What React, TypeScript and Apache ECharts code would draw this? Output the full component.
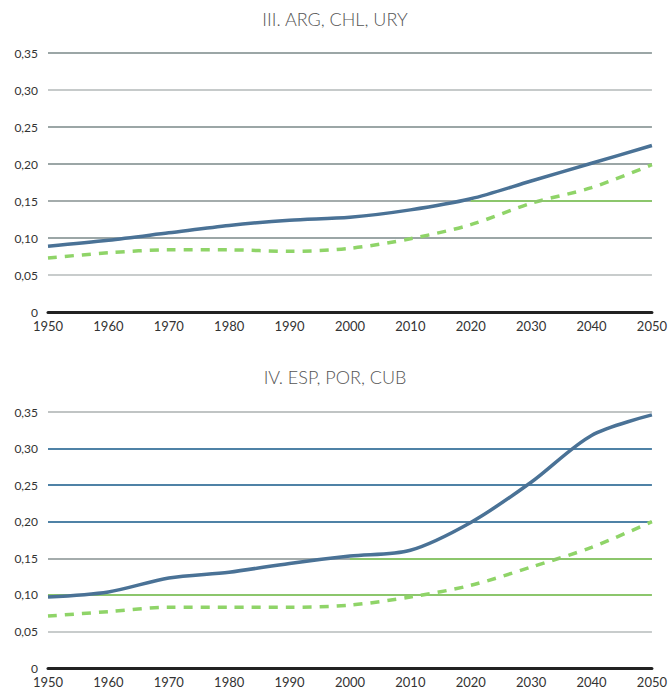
import React, { useEffect, useRef } from "react";
import * as echarts from "echarts";

const years = ["1950", "1960", "1970", "1980", "1990", "2000", "2010", "2020", "2030", "2040", "2050"];
const yTickLabels = ["0", "0,05", "0,10", "0,15", "0,20", "0,25", "0,30", "0,35"];

const titleTop = "III. ARG, CHL, URY";
const topBlue = [0.089, 0.097, 0.107, 0.117, 0.124, 0.128, 0.138, 0.153, 0.177, 0.201, 0.225];
const topGreen = [0.073, 0.080, 0.084, 0.084, 0.082, 0.086, 0.099, 0.118, 0.147, 0.168, 0.199];

const titleBottom = "IV. ESP, POR, CUB";
const botBlue = [0.097, 0.104, 0.123, 0.131, 0.143, 0.153, 0.161, 0.199, 0.254, 0.318, 0.346];
const botGreen = [0.071, 0.077, 0.083, 0.083, 0.083, 0.086, 0.097, 0.113, 0.138, 0.165, 0.200];

const topGridColors = ["#222", "#c8cccc", "#9ba6a6", "#a4acac", "#9ba6a6", "#9ba6a6", "#c6caca", "#9ba6a6"];
const botGridColors = ["#222", "#c8cccc", "#8cc66c", "#a4acac", "#4f82a6", "#4f82a6", "#4f82a6", "#c0c4c4"];

const FONT = "Lato";

export default function App() {
  const ref = useRef<HTMLDivElement>(null);
  useEffect(() => {
    if (!ref.current) return;
    const chart = echarts.init(ref.current, null, { renderer: "svg" });
    const yAxisBase = (colors: string[]) => ({
      type: "value",
      min: 0,
      max: 0.35,
      interval: 0.05,
      axisLine: { show: false },
      axisTick: { show: false },
      axisLabel: {
        color: "#333",
        fontSize: 12,
        fontFamily: FONT,
        margin: 10,
        formatter: (v: number) => yTickLabels[Math.round(v / 0.05)],
      },
      splitLine: { show: true, lineStyle: { color: colors, width: 2 } },
    });
    const xAxisBase = (gridIndex: number) => ({
      type: "category",
      gridIndex,
      data: years,
      boundaryGap: false,
      axisLine: { show: true, lineStyle: { color: "#222", width: 3 } },
      axisTick: { show: false },
      axisLabel: { color: "#333", fontSize: 13, fontFamily: FONT, margin: 7 },
      splitLine: { show: false },
    });
    const blueStyle = { color: "#4a7296", width: 3.5 };
    const greenStyle = { color: "#8fd468", width: 3.5, type: [9, 8] as any };
    const titleStyle = { fontFamily: FONT, fontSize: 18, fontWeight: 300, color: "#555" };
    chart.setOption({
      animation: false,
      backgroundColor: "#fff",
      title: [
        { text: titleTop, left: "center", top: 5, textStyle: titleStyle },
        { text: titleBottom, left: "center", top: 363, textStyle: titleStyle },
      ],
      grid: [
        { left: 48, right: 17, top: 53, height: 259 },
        { left: 48, right: 17, top: 412, height: 256 },
      ],
      xAxis: [xAxisBase(0), xAxisBase(1)],
      yAxis: [
        { ...yAxisBase(topGridColors), gridIndex: 0 },
        { ...yAxisBase(botGridColors), gridIndex: 1 },
      ],
      series: [
        {
          type: "line",
          xAxisIndex: 0,
          yAxisIndex: 0,
          data: topGreen,
          smooth: 0.3,
          symbol: "none",
          lineStyle: greenStyle,
          z: 3,
          markLine: {
            silent: true,
            symbol: "none",
            label: { show: false },
            lineStyle: { color: "#8cc66c", width: 2, type: "solid" },
            data: [[{ coord: ["2020", 0.15] }, { coord: ["2050", 0.15] }]],
          },
        },
        {
          type: "line",
          xAxisIndex: 0,
          yAxisIndex: 0,
          data: topBlue,
          smooth: 0.3,
          symbol: "none",
          lineStyle: blueStyle,
          z: 4,
        },
        {
          type: "line",
          xAxisIndex: 1,
          yAxisIndex: 1,
          data: botGreen,
          smooth: 0.3,
          symbol: "none",
          lineStyle: greenStyle,
          z: 3,
          markLine: {
            silent: true,
            symbol: "none",
            label: { show: false },
            lineStyle: { color: "#8cc66c", width: 2, type: "solid" },
            data: [[{ coord: ["2000", 0.15] }, { coord: ["2050", 0.15] }]],
          },
        },
        {
          type: "line",
          xAxisIndex: 1,
          yAxisIndex: 1,
          data: botBlue,
          smooth: 0.3,
          symbol: "none",
          lineStyle: blueStyle,
          z: 4,
        },
      ],
    });
    return () => chart.dispose();
  }, []);
  return (
    <div
      ref={ref}
      style={{ position: "absolute", left: 0, top: 0, width: 670, height: 692, background: "#fff" }}
    />
  );
}
